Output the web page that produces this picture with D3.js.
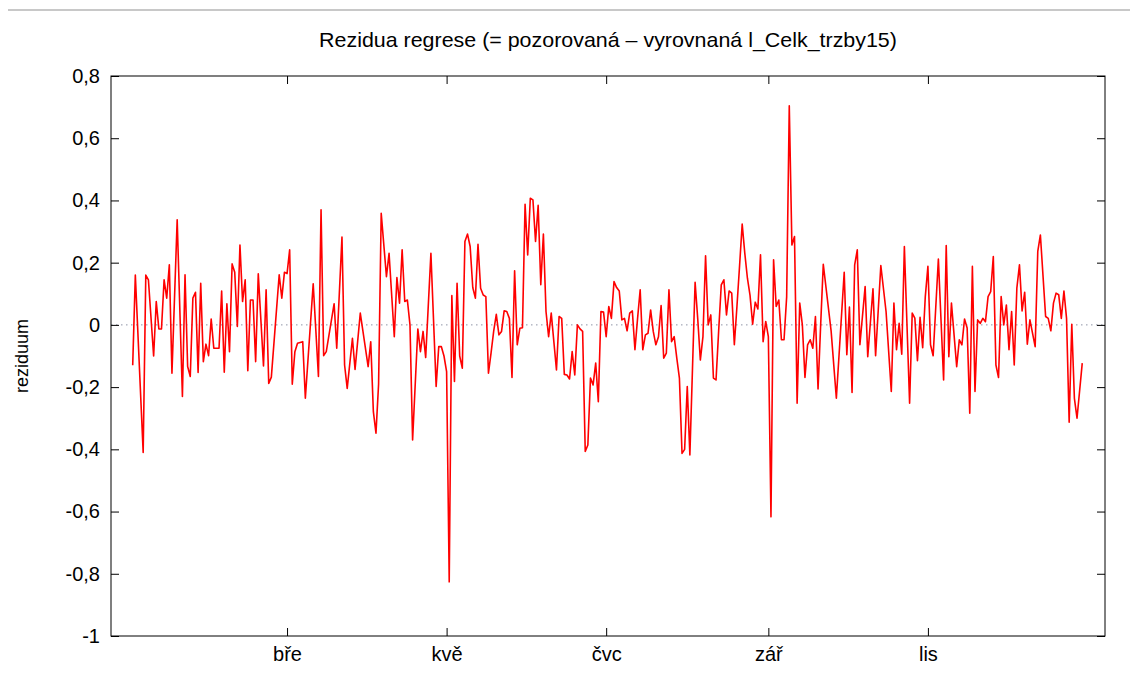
<!DOCTYPE html>
<html>
<head>
<meta charset="utf-8">
<script src="https://cdn.jsdelivr.net/npm/d3@7"></script>
<style>
  html, body { margin: 0; padding: 0; background: #fff; }
  svg { display: block; }
  text { font-family: "Liberation Sans", Arial, sans-serif; fill: #000; }
</style>
</head>
<body>
<svg id="chart" width="1130" height="673"></svg>
<script>
// ---- data (day of year 2015, 0 = 1 Jan) ----
const dayIndex = [
  0,1,4,5,6,8,9,10,11,12,13,14,15,17,19,20,21,22,23,24,25,26,27,28,29,30,31,33,34,35,36,37,38,39,40,41,42,43,44,45,46,47,48,50,51,52,53,56,57,58,59,
  60,61,62,63,65,66,69,71,72,73,74,77,78,80,81,82,84,85,87,90,91,92,93,94,95,97,98,100,101,102,103,104,105,106,107,109,110,111,112,114,116,117,118,119,120,121,
  122,123,124,125,126,127,128,129,130,131,132,133,134,135,136,137,138,139,140,141,142,143,144,145,146,147,148,149,150,151,152,153,154,155,156,157,158,159,160,161,162,163,164,165,166,167,168,169,170,171,172,173,174,175,176,177,178,179,180,181,
  182,183,184,185,186,187,188,189,190,191,192,193,194,195,196,197,198,199,200,201,202,203,204,205,206,207,208,209,210,211,212,213,214,215,216,217,218,219,220,221,222,223,224,225,226,227,228,229,230,231,232,233,234,235,236,237,238,239,240,241,242,243,
  244,245,246,247,248,249,250,251,252,253,254,255,256,257,258,259,260,261,262,263,264,267,269,272,273,274,275,276,277,278,280,281,283,284,286,288,290,291,292,293,294,295,297,298,299,300,301,302,303,
  304,305,306,308,310,311,312,313,315,316,317,318,319,320,321,322,323,324,325,326,327,328,329,330,331,332,333,334,335,336,337,338,339,340,341,342,343,345,346,347,349,350,351,352,353,354,355,356,357,358,359,360,361,363
];
const residual = [
  -0.13,0.16,-0.41,0.16,0.145,-0.10,0.075,-0.013,-0.013,0.145,0.086,0.193,-0.155,0.338,-0.23,0.161,-0.134,-0.166,0.086,0.105,-0.153,0.134,-0.118,-0.062,-0.099,0.019,-0.075,-0.075,0.109,-0.152,0.068,-0.086,0.196,0.169,-0.005,0.257,0.075,0.145,-0.147,0.08,0.08,-0.118,0.164,-0.132,0.113,-0.188,-0.168,0.161,0.086,0.169,0.165,
  0.241,-0.191,-0.086,-0.059,-0.054,-0.236,0.132,-0.166,0.370,-0.099,-0.086,0.068,-0.075,0.282,-0.129,-0.204,-0.043,-0.143,0.038,-0.134,-0.054,-0.279,-0.348,-0.19,0.359,0.155,0.230,-0.038,0.152,0.070,0.241,0.075,0.080,0.0,-0.370,-0.013,-0.086,-0.021,-0.105,0.230,-0.198,-0.070,-0.070,-0.10,-0.15,-0.826,
  0.094,-0.182,0.134,-0.10,-0.139,0.268,0.292,0.252,0.12,0.086,0.259,0.118,0.096,0.091,-0.155,-0.09,-0.02,0.034,-0.032,-0.021,0.045,0.043,0.021,-0.169,0.174,-0.064,-0.011,-0.009,0.388,0.225,0.407,0.402,0.268,0.384,0.129,0.292,0.043,-0.038,0.038,-0.054,-0.145,0.027,0.021,-0.159,-0.161,-0.174,-0.086,-0.161,0.0,-0.013,-0.021,-0.407,-0.386,-0.171,-0.193,-0.123,-0.247,0.043,0.041,-0.038,
  0.059,0.021,0.139,0.12,0.109,0.016,0.021,-0.019,0.038,0.045,-0.080,0.02,0.113,-0.080,-0.032,-0.027,0.048,-0.021,-0.064,-0.038,0.062,-0.107,-0.091,0.113,-0.054,-0.038,-0.107,-0.171,-0.413,-0.40,-0.198,-0.418,-0.14,0.137,0.02,-0.113,-0.038,0.222,0.0,0.032,-0.171,-0.177,-0.02,0.129,0.145,0.032,0.109,0.102,-0.064,0.06,0.19,0.324,0.23,0.150,0.095,0.002,0.073,0.051,0.225,-0.054,0.011,-0.038,
  -0.617,0.209,0.059,0.080,-0.048,-0.048,0.09,0.704,0.257,0.284,-0.252,0.070,0.0,-0.169,-0.064,-0.048,-0.075,0.027,-0.206,0.0,0.195,-0.02,-0.236,0.169,-0.096,0.057,-0.217,0.193,0.241,-0.064,0.123,-0.102,0.116,-0.099,0.191,0.043,-0.214,0.070,-0.080,0.005,-0.094,0.252,-0.252,0.038,0.022,-0.115,0.024,-0.073,0.091,
  0.188,-0.064,-0.099,0.212,-0.177,0.255,-0.102,0.07,-0.134,-0.048,-0.064,0.019,-0.01,-0.284,0.188,-0.214,0.016,0.005,0.021,0.010,0.091,0.107,0.220,-0.129,-0.169,0.091,0.0,0.064,-0.080,0.043,-0.129,0.118,0.193,0.045,0.105,-0.062,0.016,-0.070,0.236,0.289,0.027,0.021,-0.019,0.07,0.102,0.097,0.021,0.109,0.021,-0.313,0.002,-0.236,-0.300,-0.123
];
const yTickValues = [0.8, 0.6, 0.4, 0.2, 0, -0.2, -0.4, -0.6, -0.8, -1];
const yTickLabels = ["0,8", "0,6", "0,4", "0,2", "0", "-0,2", "-0,4", "-0,6", "-0,8", "-1"];
const xTickDates = ["2015-03-01", "2015-05-01", "2015-07-01", "2015-09-01", "2015-11-01"];
const xTickLabels = ["bře", "kvě", "čvc", "zář", "lis"];
const titleText = "Rezidua regrese (= pozorovaná – vyrovnaná l_Celk_trzby15)";
const yAxisTitle = "reziduum";

// ---- layout ----
const svg = d3.select("#chart");
const plot = { left: 111, right: 1105, top: 76, bottom: 636 };
const DAY = 86400000;
const t0 = Date.UTC(2015, 0, 1);

const x = d3.scaleUtc()
  .domain([new Date(t0 - 8.3 * DAY), new Date(t0 + 371.7 * DAY)])
  .range([plot.left, plot.right]);
const y = d3.scaleLinear().domain([-1, 0.8]).range([plot.bottom, plot.top]);

const points = dayIndex.map((d, i) => ({ date: new Date(t0 + d * DAY), v: residual[i] }));

svg.append("rect").attr("width", 1130).attr("height", 673).attr("fill", "#fff");

// top page rule
svg.append("line").attr("x1", 8).attr("x2", 1130).attr("y1", 10).attr("y2", 10)
  .attr("stroke", "#c8c8c8").attr("stroke-width", 2);

// title
svg.append("text").attr("x", 608).attr("y", 47).attr("text-anchor", "middle")
  .attr("font-size", 21).attr("transform", "translate(608,0) scale(1.02,1) translate(-608,0)")
  .text(titleText);

// zero line
svg.append("line").attr("x1", plot.left).attr("x2", plot.right)
  .attr("y1", y(0)).attr("y2", y(0))
  .attr("stroke", "#8e93a6").attr("stroke-width", 1).attr("stroke-dasharray", "1.5,3.5");

// data line
svg.append("path").datum(points)
  .attr("fill", "none").attr("stroke", "#ff0000").attr("stroke-width", 1.6)
  .attr("stroke-linejoin", "round")
  .attr("d", d3.line().x(d => x(d.date)).y(d => y(d.v)));

// axes
const xTicks = xTickDates.map(s => new Date(s + "T00:00:00Z"));
const fmtY = d => yTickLabels[yTickValues.indexOf(d)];
const fmtX = d => xTickLabels[xTicks.findIndex(t => +t === +d)];

const gL = svg.append("g").attr("transform", `translate(${plot.left},0)`)
  .call(d3.axisLeft(y).tickValues(yTickValues).tickSize(-8).tickPadding(11).tickFormat(fmtY));
const gR = svg.append("g").attr("transform", `translate(${plot.right},0)`)
  .call(d3.axisRight(y).tickValues(yTickValues).tickSize(-8).tickFormat(""));
const gB = svg.append("g").attr("transform", `translate(0,${plot.bottom})`)
  .call(d3.axisBottom(x).tickValues(xTicks).tickSize(-8).tickPadding(11).tickFormat(fmtX));
const gT = svg.append("g").attr("transform", `translate(0,${plot.top})`)
  .call(d3.axisTop(x).tickValues(xTicks).tickSize(-8).tickFormat(""));

[gL, gR, gB, gT].forEach(g => {
  g.select(".domain").remove();
  g.selectAll("line").attr("stroke", "#000");
  g.selectAll("text").attr("font-family", "'Liberation Sans', Arial, sans-serif")
    .attr("font-size", 20).attr("fill", "#000");
});

// frame
svg.append("rect").attr("x", plot.left).attr("y", plot.top)
  .attr("width", plot.right - plot.left).attr("height", plot.bottom - plot.top)
  .attr("fill", "none").attr("stroke", "#000").attr("stroke-width", 1);

// y axis title
svg.append("text").attr("transform", `translate(28,${(plot.top + plot.bottom) / 2}) rotate(-90)`)
  .attr("text-anchor", "middle").attr("font-size", 18).text(yAxisTitle);
</script>
</body>
</html>
